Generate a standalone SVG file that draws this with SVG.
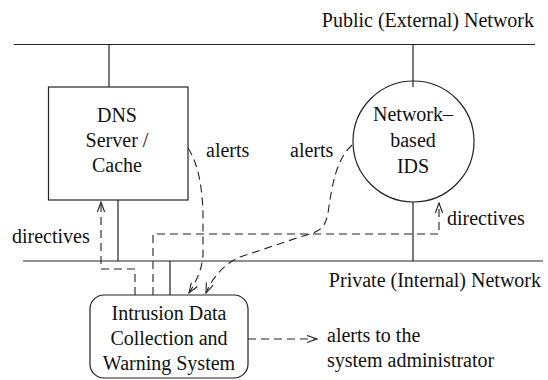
<svg xmlns="http://www.w3.org/2000/svg" width="548" height="380" viewBox="0 0 548 380">
<style>
text{font-family:'Liberation Serif','Times New Roman','DejaVu Serif',serif;font-size:20px;fill:#111}
.ln{stroke:#222;stroke-width:1.2;fill:none}
.d{stroke:#222;stroke-width:1.1;fill:none;stroke-dasharray:8,5}
.c{text-anchor:middle}
</style>
<defs>
<marker id="ah" viewBox="-11 -5 12 10" refX="0" refY="0" markerWidth="12" markerHeight="10" markerUnits="userSpaceOnUse" orient="auto">
<path d="M-10,-3.6 L0,0 L-10,3.6" fill="none" stroke="#222" stroke-width="1.1"/>
</marker>
</defs>
<g id="public-net">
<line class="ln" x1="14" y1="44.5" x2="535" y2="44.5"/>
<text x="534" y="27" text-anchor="end" font-family="Liberation Serif, serif">Public (External) Network</text>
</g>
<g id="private-net">
<line class="ln" x1="23" y1="261" x2="543" y2="261"/>
<text x="541" y="287" text-anchor="end" font-family="Liberation Serif, serif">Private (Internal) Network</text>
</g>
<g id="dns">
<rect class="ln" x="48.5" y="87" width="139.5" height="113"/>
<text class="c" x="117" y="122">DNS</text>
<text class="c" x="117" y="147">Server /</text>
<text class="c" x="117" y="172">Cache</text>
</g>
<g id="ids">
<circle class="ln" cx="413.5" cy="141.5" r="60.5"/>
<text class="c" x="413" y="121">Network–</text>
<text class="c" x="413" y="147">based</text>
<text class="c" x="413" y="173">IDS</text>
</g>
<g id="idcws">
<rect class="ln" x="90" y="295" width="158" height="83" rx="14" ry="14"/>
<text class="c" x="169" y="320">Intrusion Data</text>
<text class="c" x="169" y="345">Collection and</text>
<text class="c" x="169" y="370">Warning System</text>
</g>
<g id="admin">
<text x="327" y="342">alerts to the</text>
<text x="327" y="367">system administrator</text>
</g>
<g id="connectors">
<line class="ln" x1="109" y1="44.5" x2="109" y2="87"/>
<line class="ln" x1="413" y1="44.5" x2="413" y2="87"/>
<line class="ln" x1="118" y1="200" x2="118" y2="261"/>
<line class="ln" x1="413" y1="202" x2="413" y2="261"/>
<line class="ln" x1="170" y1="261" x2="170" y2="295"/>
<path class="d" d="M135,295 L135,269 L101,269 L101,202" marker-end="url(#ah)"/>
<path class="d" d="M153,295 L153,234 L439,234 L439,203" marker-end="url(#ah)"/>
<path class="d" d="M188,148 C196,160 202,180 203,213 L203,255 C202,270 196,282 189,293" marker-end="url(#ah)"/>
<path class="d" d="M352,145 C336,160 332,185 328,213 C325,230 318,232 300,237 L240,257 C225,263 212,278 206,293" marker-end="url(#ah)"/>
<path class="d" d="M248,339 L317,339" marker-end="url(#ah)"/>
<text x="206" y="157">alerts</text>
<text x="290" y="157">alerts</text>
<text x="12" y="243">directives</text>
<text x="447" y="225">directives</text>
</g>
</svg>
